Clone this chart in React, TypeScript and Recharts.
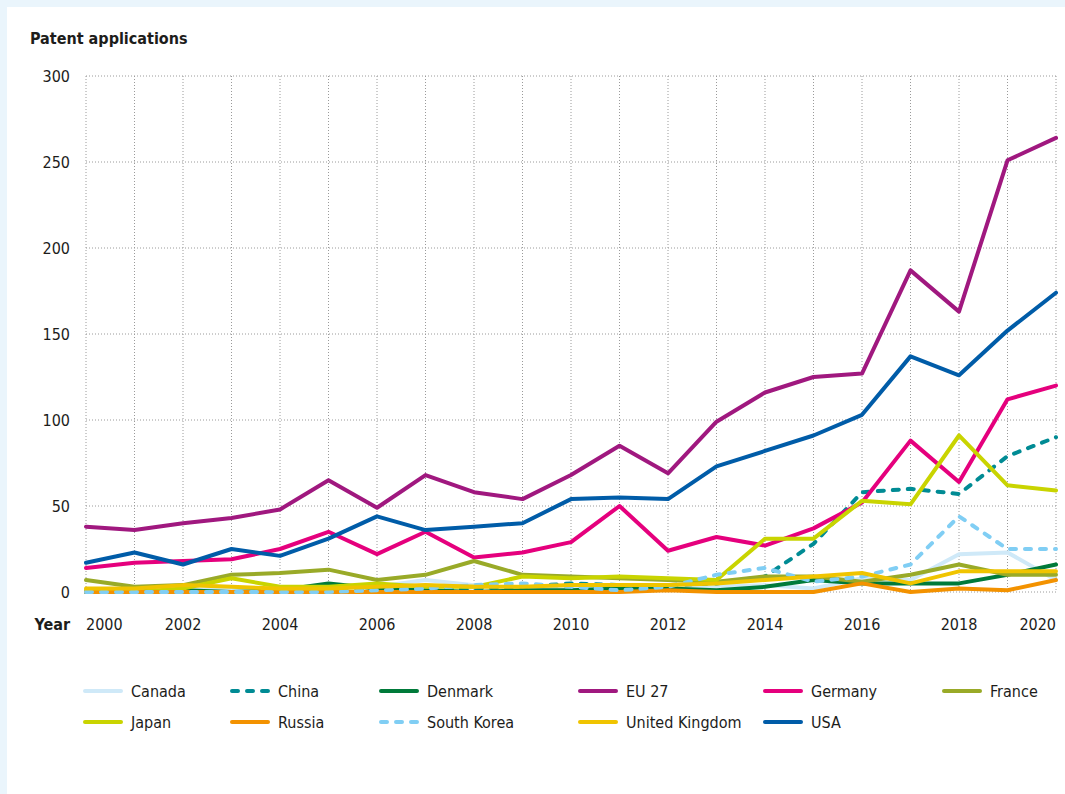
import { LineChart, Line, XAxis, YAxis, CartesianGrid } from "recharts";

const FONT =
  '"DejaVu Sans Condensed", "Liberation Sans Narrow", "DejaVu Sans", sans-serif';
const TEXT = "#1d1d1b";

const years = [
  2000, 2001, 2002, 2003, 2004, 2005, 2006, 2007, 2008, 2009, 2010, 2011, 2012,
  2013, 2014, 2015, 2016, 2017, 2018, 2019, 2020,
];
const yTicks = [0, 50, 100, 150, 200, 250, 300];

const canada = [1, 1, 1, 2, 1, 2, 3, 7, 4, 2, 2, 3, 2, 3, 4, 2, 8, 7, 22, 23, 7];
const china = [0, 1, 0, 0, 0, 0, 1, 1, 2, 3, 5, 4, 4, 5, 9, 28, 58, 60, 57, 79, 90];
const denmark = [0, 0, 1, 0, 1, 5, 2, 1, 0, 1, 1, 2, 2, 1, 3, 7, 5, 5, 5, 10, 16];
const eu27 = [38, 36, 40, 43, 48, 65, 49, 68, 58, 54, 68, 85, 69, 99, 116, 125, 127, 187, 163, 251, 264];
const germany = [14, 17, 18, 19, 25, 35, 22, 35, 20, 23, 29, 50, 24, 32, 27, 37, 52, 88, 64, 112, 120];
const france = [7, 3, 4, 10, 11, 13, 7, 10, 18, 10, 9, 8, 7, 6, 9, 9, 6, 10, 16, 10, 10];
const japan = [1, 0, 2, 8, 3, 3, 5, 3, 3, 9, 8, 9, 8, 7, 31, 31, 53, 51, 91, 62, 59];
const russia = [0, 0, 0, 0, 0, 0, 0, 0, 0, 0, 0, 0, 1, 0, 0, 0, 5, 0, 2, 1, 7];
const southKorea = [0, 0, 0, 0, 0, 0, 1, 2, 4, 5, 3, 1, 3, 10, 14, 6, 9, 16, 44, 25, 25];
const unitedKingdom = [2, 2, 4, 3, 2, 2, 3, 4, 3, 3, 4, 4, 4, 5, 7, 9, 11, 5, 12, 12, 12];
const usa = [17, 23, 16, 25, 21, 31, 44, 36, 38, 40, 54, 55, 54, 73, 82, 91, 103, 137, 126, 152, 174];

const SERIES = [
  { name: "Canada", values: canada, color: "#CFE9F8", dashed: false },
  { name: "China", values: china, color: "#008B94", dashed: true },
  { name: "Denmark", values: denmark, color: "#007A3A", dashed: false },
  { name: "EU 27", values: eu27, color: "#A0187F", dashed: false },
  { name: "Germany", values: germany, color: "#E5007D", dashed: false },
  { name: "France", values: france, color: "#99AA28", dashed: false },
  { name: "Japan", values: japan, color: "#C9D400", dashed: false },
  { name: "Russia", values: russia, color: "#F39200", dashed: false },
  { name: "South Korea", values: southKorea, color: "#80CEF4", dashed: true },
  { name: "United Kingdom", values: unitedKingdom, color: "#F0C400", dashed: false },
  { name: "USA", values: usa, color: "#005CA8", dashed: false },
];

const data = years.map((year, i) => {
  const row: Record<string, number> = { year };
  SERIES.forEach((s) => {
    row[s.name] = s.values[i];
  });
  return row;
});

// legend grid: 6 columns, 2 rows
const LEGEND_X = [83, 230, 379, 578, 763, 942];
const LEGEND_Y = [691, 722];

const XTick = (props: any) => {
  const { x, y, payload } = props;
  const v = payload.value as number;
  if (v % 2 !== 0) return <g />;
  const anchor = v === 2000 ? "start" : v === 2020 ? "end" : "middle";
  return (
    <g fontFamily={FONT} fontSize={16} fill={TEXT}>
      {v === 2000 && (
        <text x={70} y={y + 38} textAnchor="end" fontWeight="bold">
          Year
        </text>
      )}
      <text x={x} y={y + 38} textAnchor={anchor}>
        {v}
      </text>
    </g>
  );
};

const YTick = (props: any) => {
  const { x, y, payload } = props;
  return (
    <text
      x={x}
      y={y}
      dy="0.36em"
      textAnchor="end"
      fontFamily={FONT}
      fontSize={16}
      fill={TEXT}
    >
      {payload.value}
    </text>
  );
};

export default function App() {
  return (
    <div
      style={{
        position: "absolute",
        left: 0,
        top: 0,
        width: 1065,
        height: 794,
        background: "#EAF5FC",
        overflow: "hidden",
      }}
    >
      <div
        style={{
          position: "absolute",
          left: 7,
          top: 7,
          width: 1058,
          height: 787,
          background: "#fff",
        }}
      />
      <svg
        width={1065}
        height={60}
        style={{ position: "absolute", left: 0, top: 0 }}
      >
        <text
          x={30}
          y={44}
          fontFamily={FONT}
          fontSize={16}
          fontWeight="bold"
          fill={TEXT}
        >
          Patent applications
        </text>
      </svg>
      <div style={{ position: "absolute", left: 0, top: 0 }}>
        <LineChart
          width={1065}
          height={640}
          data={data}
          margin={{ top: 76, right: 9, left: 26, bottom: 8 }}
        >
          <CartesianGrid stroke="#9a9a9a" strokeDasharray="1 2" />
          <XAxis
            dataKey="year"
            type="number"
            domain={[2000, 2020]}
            ticks={years}
            interval={0}
            height={40}
            tickSize={0}
            tickMargin={0}
            axisLine={false}
            tickLine={false}
            tick={<XTick />}
          />
          <YAxis
            type="number"
            domain={[0, 300]}
            ticks={yTicks}
            width={60}
            tickSize={0}
            tickMargin={16}
            axisLine={false}
            tickLine={false}
            tick={<YTick />}
          />
          {SERIES.map((s) => (
            <Line
              key={s.name}
              type="linear"
              dataKey={s.name}
              stroke={s.color}
              strokeWidth={4}
              strokeDasharray={s.dashed ? "6 9" : undefined}
              strokeLinecap="round"
              strokeLinejoin="round"
              dot={false}
              activeDot={false}
              isAnimationActive={false}
            />
          ))}
        </LineChart>
      </div>
      <svg
        width={1065}
        height={80}
        style={{ position: "absolute", left: 0, top: 666 }}
      >
        {SERIES.map((s, i) => {
          const cx = LEGEND_X[i % 6];
          const cy = LEGEND_Y[Math.floor(i / 6)] - 666;
          return (
            <g key={s.name}>
              <line
                x1={cx + 2}
                x2={cx + 38}
                y1={cy}
                y2={cy}
                stroke={s.color}
                strokeWidth={4}
                strokeLinecap="round"
                strokeDasharray={s.dashed ? "6 9" : undefined}
              />
              <text
                x={cx + 48}
                y={cy}
                dy="0.36em"
                fontFamily={FONT}
                fontSize={16}
                fill={TEXT}
              >
                {s.name}
              </text>
            </g>
          );
        })}
      </svg>
    </div>
  );
}
